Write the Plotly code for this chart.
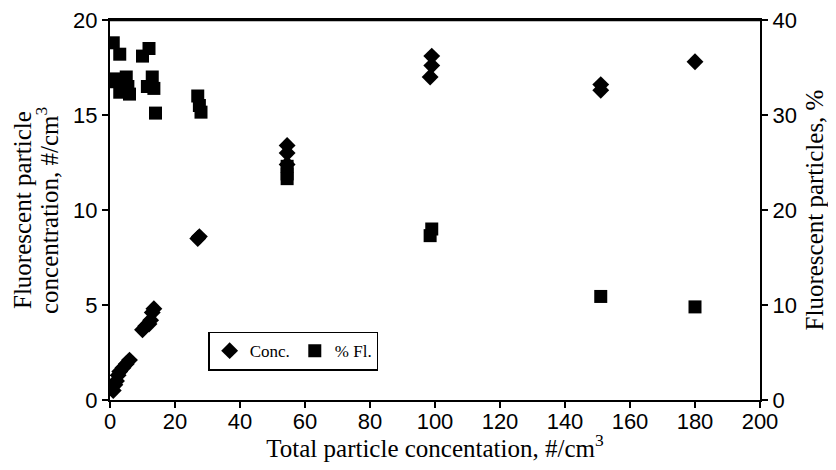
import plotly.graph_objects as go

# Conc. (left axis, #/cm3)
conc_x = [1, 1.5, 2, 2.5, 3, 4, 5, 6, 10, 11, 12, 12.5, 13, 13.5, 27, 27.5,
          54.5, 54.5, 54.5, 98.5, 99, 99, 151, 151, 180]
conc_y = [0.5, 0.8, 1.0, 1.3, 1.5, 1.7, 1.9, 2.1, 3.7, 3.9, 4.0, 4.2, 4.6, 4.8, 8.5, 8.6,
          13.4, 13.0, 12.4, 17.0, 17.6, 18.1, 16.6, 16.3, 17.8]

# % Fl. (right axis, %)
pct_x = [1, 1.5, 3, 2, 3, 5, 5.5, 6, 10, 12, 11.5, 13, 13.5, 14, 27, 27.5, 28,
         54.5, 54.5, 54.5, 98.5, 99, 151, 180]
pct_y = [37.6, 33.8, 36.4, 33.5, 32.4, 34, 33, 32.2, 36.2, 37, 33, 34, 32.8, 30.2,
         32.0, 31.0, 30.3, 24.6, 23.8, 23.3, 17.3, 18.0, 10.9, 9.8]

x_ticks = [0, 20, 40, 60, 80, 100, 120, 140, 160, 180, 200]
yl_ticks = [0, 5, 10, 15, 20]
yr_ticks = [0, 10, 20, 30, 40]

serif = "Liberation Serif"
sans = "Liberation Sans"

fig = go.Figure()
fig.add_trace(go.Scatter(x=conc_x, y=conc_y, mode="markers", name="Conc.",
                         marker=dict(symbol="diamond", size=13, color="black"),
                         yaxis="y"))
fig.add_trace(go.Scatter(x=pct_x, y=pct_y, mode="markers", name="% Fl.",
                         marker=dict(symbol="square", size=13, color="black"),
                         yaxis="y2"))

axis_common = dict(showline=True, linecolor="black", linewidth=2, ticks="outside",
                   ticklen=6, tickcolor="black", tickwidth=1.5, showgrid=False,
                   zeroline=False, automargin=False, ticklabeloverflow="allow",
                   tickfont=dict(family=sans, size=22, color="black"))

title_font = dict(family=serif, size=25, color="black")

fig.update_layout(
    width=820, height=454,
    margin=dict(l=102, r=68, t=12, b=62),
    paper_bgcolor="white", plot_bgcolor="white",
    showlegend=True,
    legend=dict(x=0.151, y=0.18, xanchor="left", yanchor="top", orientation="h",
                bordercolor="black", borderwidth=1.5, bgcolor="white",
                font=dict(family=serif, size=17, color="black"),
                itemwidth=30, tracegroupgap=0),
    xaxis=dict(range=[0, 200], tickvals=x_ticks, mirror=True, ticklabelstandoff=-5,
               title=dict(text="Total particle concentation, #/cm<sup>3</sup>",
                          font=title_font, standoff=26),
               **axis_common),
    yaxis=dict(range=[0, 20], tickvals=yl_ticks, **axis_common),
    yaxis2=dict(range=[0, 40], tickvals=yr_ticks, overlaying="y", side="right",
                title=dict(text="Fluorescent particles, %",
                           font=title_font, standoff=17),
                **axis_common),
)

# top frame line of the plot area
fig.add_shape(type="line", xref="paper", yref="paper", x0=0, x1=1, y0=1, y1=1,
              layer="above", line=dict(color="black", width=2.5))

fig.add_annotation(text="Fluorescent particle", xref="paper", yref="paper",
                   x=0, y=0.5, xshift=-88, textangle=-90, showarrow=False,
                   xanchor="center", yanchor="middle", font=title_font)
fig.add_annotation(text="concentration, #/cm<sup>3</sup>", xref="paper", yref="paper",
                   x=0, y=0.5, xshift=-63, textangle=-90, showarrow=False,
                   xanchor="center", yanchor="middle", font=title_font)

fig.write_html("out.html")
